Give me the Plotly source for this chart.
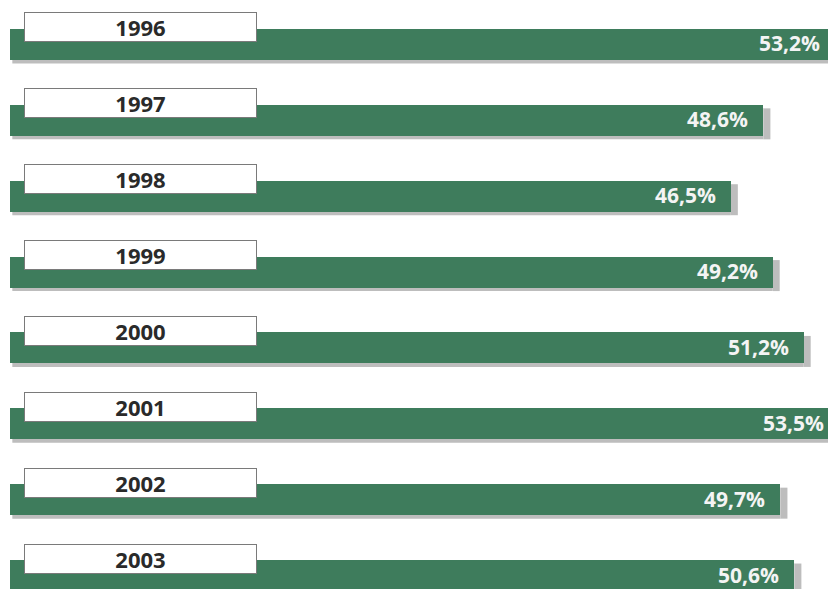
import plotly.graph_objects as go

years = ["1996", "1997", "1998", "1999", "2000", "2001", "2002", "2003"]
values = [53.2, 48.6, 46.5, 49.2, 51.2, 53.5, 49.7, 50.6]

GREEN = "#3e7c5c"
SHADOW = "#bdbdbd"
FONT = "Open Sans"

idx = list(range(len(years)))
labels = [f"{v:.1f}".replace(".", ",") + "%" for v in values]

fig = go.Figure()
fig.add_trace(go.Bar(
    x=values, y=idx, orientation="h", width=0.41,
    marker=dict(color=GREEN, line=dict(width=0)),
    hoverinfo="skip",
))

shapes = []
annotations = []
for i, (yr, v, lab) in enumerate(zip(years, values, labels)):
    # soft shadow below the bar
    shapes.append(dict(type="rect", xref="x", yref="y", layer="below",
                       x0=0.15, x1=v, ysizemode="pixel", yanchor=i, y0=-19, y1=12,
                       fillcolor=SHADOW, line=dict(width=0)))
    # shadow on the right end
    shapes.append(dict(type="rect", xref="x", yref="y", layer="below",
                       xsizemode="pixel", xanchor=v, x0=0, x1=7,
                       ysizemode="pixel", yanchor=i, y0=-19, y1=12,
                       fillcolor=SHADOW, line=dict(width=0)))
    # year label box
    annotations.append(dict(
        x=0, y=i, xref="x", yref="y", xanchor="left", yanchor="middle",
        xshift=14, yshift=17, text=yr, showarrow=False,
        width=231, height=28, align="center", valign="middle",
        bgcolor="white", bordercolor="#7a7a7a", borderwidth=1, borderpad=0,
        font=dict(family=FONT, size=22, color="#2a2a2a", weight=700),
    ))
    # value label
    annotations.append(dict(
        x=v, y=i, xref="x", yref="y", xanchor="right", yanchor="middle",
        xshift=-13, yshift=1, text=lab, showarrow=False,
        font=dict(family=FONT, size=21, color="#f4f4f4", weight=700),
    ))

fig.update_layout(
    width=836, height=589,
    margin=dict(l=2, r=0, t=0, b=0),
    paper_bgcolor="white", plot_bgcolor="white",
    showlegend=False,
    shapes=shapes, annotations=annotations,
    xaxis=dict(range=[0, 53.8], visible=False, fixedrange=True),
    yaxis=dict(range=[7.283, -0.481], visible=False, fixedrange=True),
    bargap=0,
)

fig.write_html("out.html")
